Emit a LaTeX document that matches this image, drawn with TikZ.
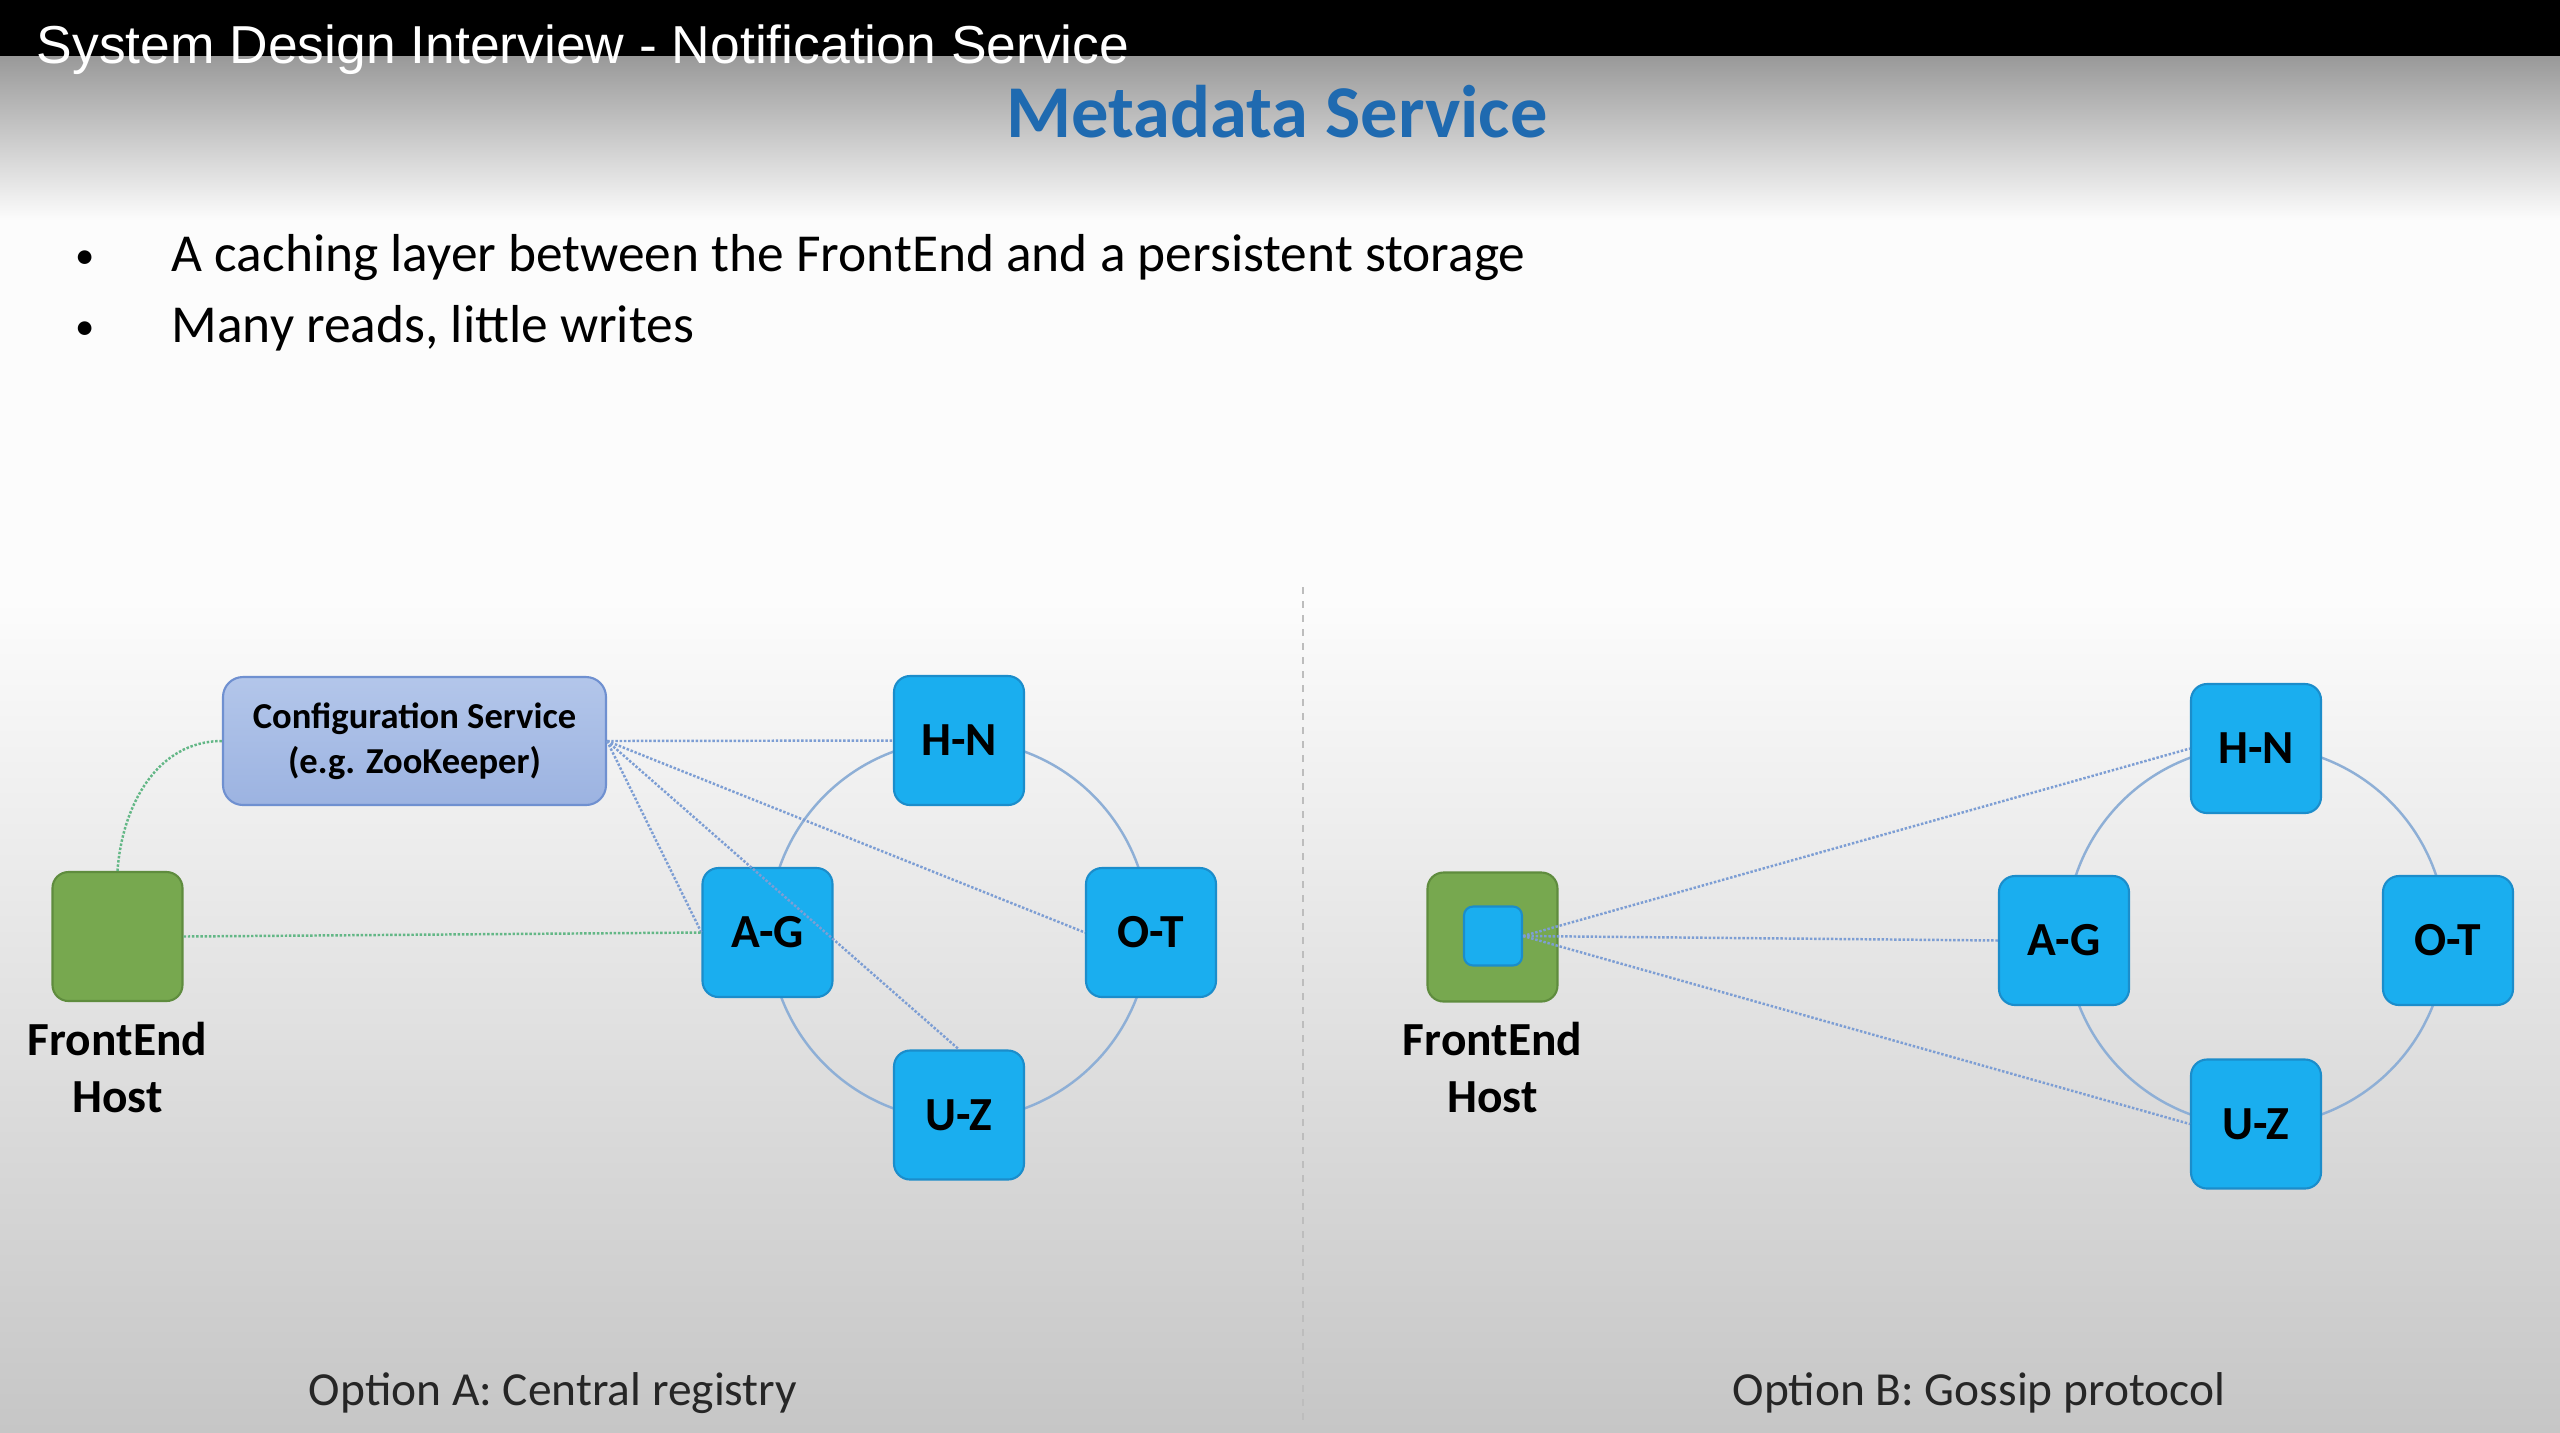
\documentclass[tikz,border=0pt]{standalone}
\usepackage{fontspec}
\setmainfont{Carlito}
\newfontfamily\ytfont{Liberation Sans}
\usetikzlibrary{positioning}
\usepackage{color}
\definecolor{mdblue}{HTML}{1F6AB0}
\definecolor{shardfill}{HTML}{1AAEEF}
\definecolor{sharddraw}{HTML}{1B8DCB}
\definecolor{hostfill}{HTML}{77A84F}
\definecolor{hostdraw}{HTML}{5F8C3E}
\definecolor{cfgtop}{HTML}{B3C6EA}
\definecolor{cfgbot}{HTML}{9CB3E1}
\definecolor{cfgdraw}{HTML}{6F90D0}
\definecolor{ringline}{HTML}{8EAFD6}
\definecolor{linkblue}{HTML}{7D9ED4}
\definecolor{linkgreen}{HTML}{63B786}
\definecolor{bgtop}{HTML}{999999}
\definecolor{bgmid}{HTML}{FCFCFC}
\definecolor{bgbot}{HTML}{C6C6C6}
\definecolor{divgray}{HTML}{BDBDBD}

\tikzset{
  shard/.style={draw=sharddraw,line width=0.6pt,fill=shardfill,rounded corners=1.6mm,
    minimum width=13mm,minimum height=12.9mm,inner sep=0pt,
    font=\fontsize{13.5}{16}\selectfont\bfseries},
  host/.style={draw=hostdraw,line width=0.6pt,fill=hostfill,rounded corners=1.6mm,
    minimum width=13mm,minimum height=12.9mm,inner sep=0pt},
  innershard/.style={draw=sharddraw,line width=0.6pt,fill=shardfill,rounded corners=0.9mm,
    minimum width=5.8mm,minimum height=5.9mm,inner sep=0pt},
  cfgbox/.style={draw=cfgdraw,line width=0.6pt,top color=cfgtop,bottom color=cfgbot,
    rounded corners=2mm,minimum width=38.3mm,minimum height=12.8mm,inner sep=0pt,
    align=center,font=\fontsize{10.4}{12.8}\selectfont\bfseries},
  hostlabel/.style={align=center,inner sep=0pt,font=\fontsize{13.5}{16.2}\selectfont\bfseries},
  caption/.style={anchor=base,inner sep=0pt,font=\fontsize{13.5}{16}\selectfont,text=black!85},
  bullettext/.style={anchor=base west,inner sep=0pt,font=\fontsize{15.2}{18}\selectfont},
  bulletdot/.style={anchor=base,inner sep=0pt,font=\fontsize{11}{13}\selectfont},
  ring/.style={draw=ringline,line width=0.7pt},
  link/.style={draw=linkblue,line width=0.7pt,dash pattern=on 0.7pt off 0.5pt},
  greenlink/.style={link,draw=linkgreen}
}

\begin{document}
\begin{tikzpicture}[line join=round,x=0.1mm,y=-0.1mm]
  \useasboundingbox (0,0) rectangle (2560,1432);
  \fill[bgmid] (0,0) rectangle (2560,1432);
  \shade[top color=bgtop,bottom color=bgmid] (0,56) rectangle (2560,220);
  \shade[top color=bgmid,bottom color=bgbot] (0,600) rectangle (2560,1432);
  \fill[black] (0,0) rectangle (2560,56);

  \node[anchor=base west,inner sep=0pt,text=white,font=\ytfont\fontsize{15.2}{18}\selectfont] (title) at (36,63) {System Design Interview - Notification Service};
  \node[anchor=base,inner sep=0pt,text=mdblue,font=\fontsize{21.2}{25}\selectfont\bfseries] (heading) at (1277,137) {Metadata Service};
  \node[bulletdot] (dot1) at (85,268) {\textbullet};
  \node[bullettext] (item1) at (171,271) {A caching layer between the FrontEnd and a persistent storage};
  \node[bulletdot] (dot2) at (85,339) {\textbullet};
  \node[bullettext] (item2) at (171,342) {Many reads, little writes};

  \coordinate (divtop) at (1303,587);
  \coordinate (divbot) at (1303,1420);
  \draw[divgray,line width=0.6pt,dash pattern=on 0.7mm off 0.7mm] (divtop) -- (divbot);

  % option A
  \coordinate (ringA) at (959,930);
  \draw[ring] (ringA) circle (190);
  \node[cfgbox] (cfg) at (414.5,741) {Configuration Service\\(e.g. ZooKeeper)};
  \node[host] (hostA) at (117.5,936.5) {};
  \node[hostlabel,below=1.9mm of hostA] (hostAlabel) {FrontEnd\\Host};
  \node[shard] (hnA) at (959,740.5) {H-N};
  \node[shard] (agA) at (767.5,932.5) {A-G};
  \node[shard] (otA) at (1151,932.5) {O-T};
  \node[shard] (uzA) at (959,1115) {U-Z};
  \draw[link] (cfg.east) -- (hnA.west);
  \draw[link] (cfg.east) -- (agA.west);
  \draw[link] (cfg.east) -- (otA.west);
  \draw[link] (cfg.east) -- (uzA.north);
  \draw[greenlink] (hostA.east) -- (agA.west);
  \draw[greenlink] (hostA.north) to[out=86,in=180] (cfg.west);
  \node[caption] (capA) at (553,1405) {Option A: Central registry};

  % option B
  \coordinate (ringB) at (2256,936);
  \draw[ring] (ringB) circle (190);
  \node[host] (hostB) at (1492.5,937) {};
  \node[innershard] (cacheB) at (1493,936) {};
  \node[hostlabel,below=1.9mm of hostB] (hostBlabel) {FrontEnd\\Host};
  \node[shard] (hnB) at (2256,748.5) {H-N};
  \node[shard] (agB) at (2064,940.5) {A-G};
  \node[shard] (otB) at (2448,940.5) {O-T};
  \node[shard] (uzB) at (2256,1124) {U-Z};
  \draw[link] (cacheB.east) -- (hnB.west);
  \draw[link] (cacheB.east) -- (agB.west);
  \draw[link] (cacheB.east) -- (uzB.west);
  \node[caption] (capB) at (1979,1405) {Option B: Gossip protocol};
\end{tikzpicture}
\end{document}
